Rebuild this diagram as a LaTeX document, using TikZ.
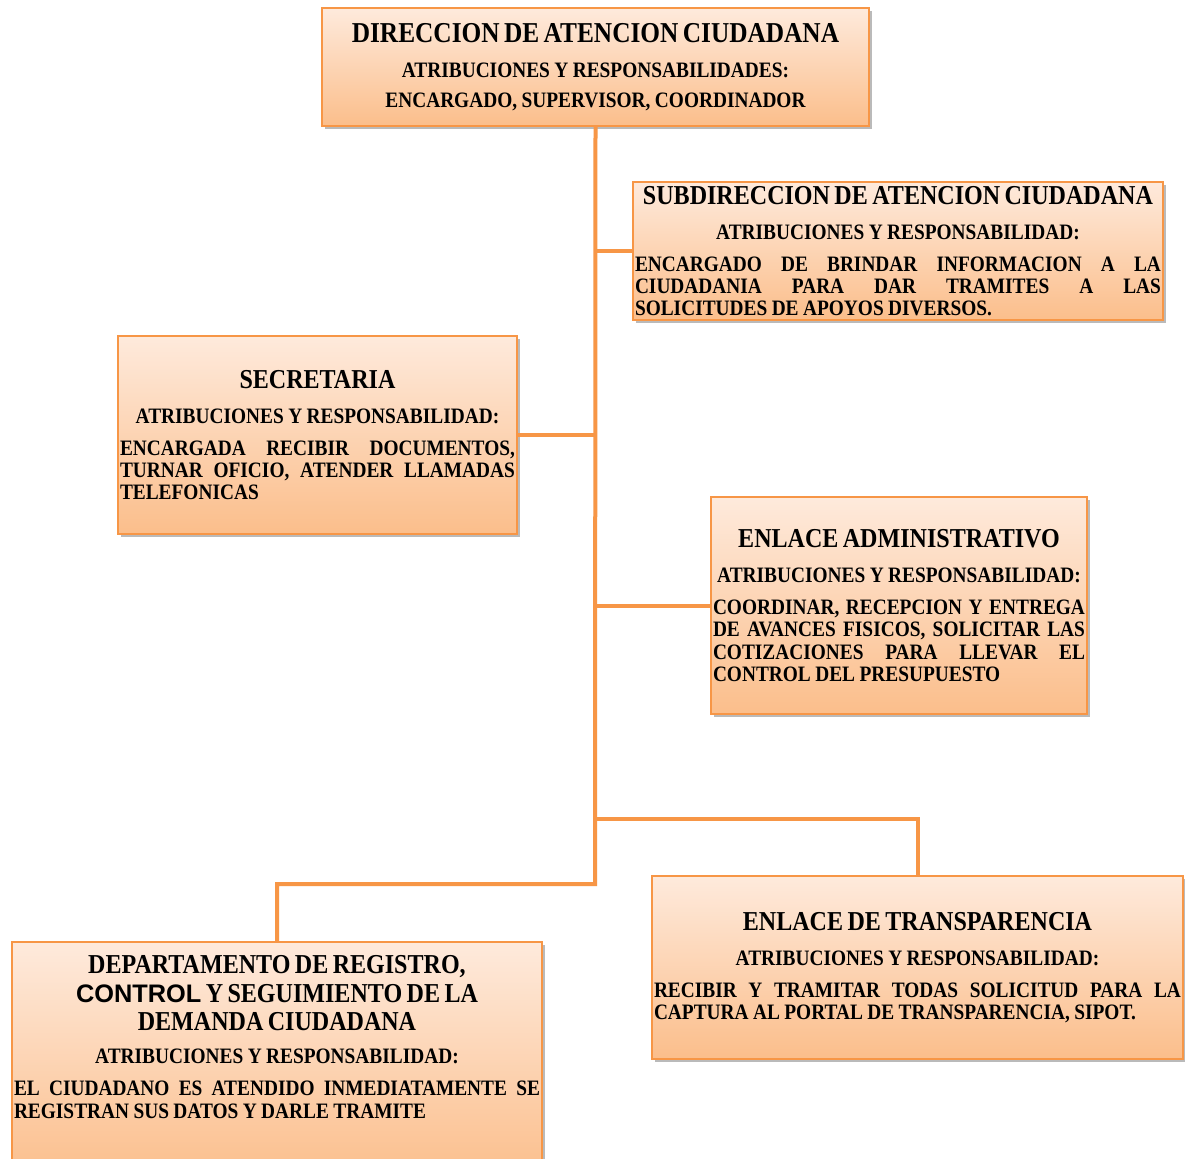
\documentclass[tikz,border=0pt]{standalone}
\usepackage{fontspec}
\setmainfont{Liberation Serif}[FakeStretch=0.88]
\newfontfamily\ctrlfont{Liberation Sans}
\usetikzlibrary{shadows}

\definecolor{orgline}{HTML}{F79646}
\definecolor{boxtop}{HTML}{FEEADC}
\definecolor{boxbot}{HTML}{FBBE8B}

\setlength{\parindent}{0pt}
% title, atribuciones line and justified body inside a box
\newcommand{\orgtitle}[2][20.5]{{\centering\fontsize{#1}{#1}\selectfont #2\par}}
\newcommand{\orgatrib}[2][26.25pt]{{\centering\fontsize{16.5}{#1}\selectfont #2\par}\vspace{7.3pt}}
\newcommand{\orgbody}[1]{{\fontsize{16.5}{16.7}\selectfont #1\par}}
\newcommand{\jline}[1]{\makebox[\hsize][s]{\spaceskip=0pt\xspaceskip=0pt\relax #1}\par}

\tikzset{
  orgbox/.style={draw=orgline, line width=1.5pt, top color=boxtop, bottom color=boxbot,
    drop shadow={shadow xshift=2pt, shadow yshift=-2.5pt, opacity=0.45, fill=black!60},
    anchor=north west, inner xsep=1.5pt, inner ysep=0pt, font=\bfseries},
  conn/.style={draw=orgline, line width=3pt}
}

\begin{document}
\begin{tikzpicture}[x=0.75pt, y=-0.75pt]
    \fill[white] (0,0) rectangle (1185,1158);
    \useasboundingbox (0,0) rectangle (1185,1158);

    \node[orgbox, minimum width=410.25pt, minimum height=88.5pt, text width=407.25pt] (dir) at (321,7) {
        \orgtitle[21.6]{DIRECCION DE ATENCION CIUDADANA}
        {\centering\fontsize{16.5}{26.25}\selectfont ATRIBUCIONES Y RESPONSABILIDADES:\par}
        {\centering\fontsize{16.5}{22.5}\selectfont ENCARGADO, SUPERVISOR, COORDINADOR\par}};

    \node[orgbox, minimum width=397.5pt, minimum height=103.5pt, text width=394.5pt] (sub) at (632,181) {
        \orgtitle{SUBDIRECCION DE ATENCION CIUDADANA}
        \orgatrib{ATRIBUCIONES Y RESPONSABILIDAD:}
        \orgbody{\jline{ENCARGADO DE BRINDAR INFORMACION A LA}
            \jline{CIUDADANIA PARA DAR TRAMITES A LAS}
            SOLICITUDES DE APOYOS DIVERSOS.}};

    \node[orgbox, minimum width=299.25pt, minimum height=148.5pt, text width=296.25pt] (sec) at (117,335) {
        \orgtitle{SECRETARIA}
        \orgatrib{ATRIBUCIONES Y RESPONSABILIDAD:}
        \orgbody{\jline{ENCARGADA RECIBIR DOCUMENTOS,}
            \jline{TURNAR OFICIO, ATENDER LLAMADAS}
            TELEFONICAS}};

    \node[orgbox, minimum width=282pt, minimum height=162.75pt, text width=279pt] (adm) at (710,496) {
        \orgtitle{ENLACE ADMINISTRATIVO}
        \orgatrib{ATRIBUCIONES Y RESPONSABILIDAD:}
        \orgbody{\jline{COORDINAR, RECEPCION Y ENTREGA}
            \jline{DE AVANCES FISICOS, SOLICITAR LAS}
            \jline{COTIZACIONES PARA LLEVAR EL}
            CONTROL DEL PRESUPUESTO}};

    \node[orgbox, minimum width=398.25pt, minimum height=137.25pt, text width=395.25pt] (tra) at (651,875) {
        \orgtitle{ENLACE DE TRANSPARENCIA}
        \orgatrib{ATRIBUCIONES Y RESPONSABILIDAD:}
        \orgbody{\jline{RECIBIR Y TRAMITAR TODAS SOLICITUD PARA LA}
            CAPTURA AL PORTAL DE TRANSPARENCIA, SIPOT.}};

    \node[orgbox, minimum width=397.5pt, minimum height=180pt, text width=394.5pt] (dep) at (11,941) {
        {\centering\fontsize{20.5}{21.4}\selectfont DEPARTAMENTO DE REGISTRO,\par
            {\ctrlfont\fontsize{19}{21.4}\selectfont CONTROL} Y SEGUIMIENTO DE LA\par
            DEMANDA CIUDADANA\par}
        \orgatrib[24.75pt]{ATRIBUCIONES Y RESPONSABILIDAD:}
        \orgbody{\jline{EL CIUDADANO ES ATENDIDO INMEDIATAMENTE SE}
            REGISTRAN SUS DATOS Y DARLE TRAMITE\par\vspace{20.8pt}\mbox{}}};

    % connectors
    \coordinate (traj) at (595,819);
    \coordinate (depj) at (595,884);
    \draw[conn] (dir.south) -- (depj) -| (dep.north);
    \draw[conn] (traj) -| (tra.north);
    \foreach \n/\s in {sub/west, sec/east, adm/west}
        \draw[conn] (\n.\s) -- (\n.\s -| dir.south);
\end{tikzpicture}
\end{document}
